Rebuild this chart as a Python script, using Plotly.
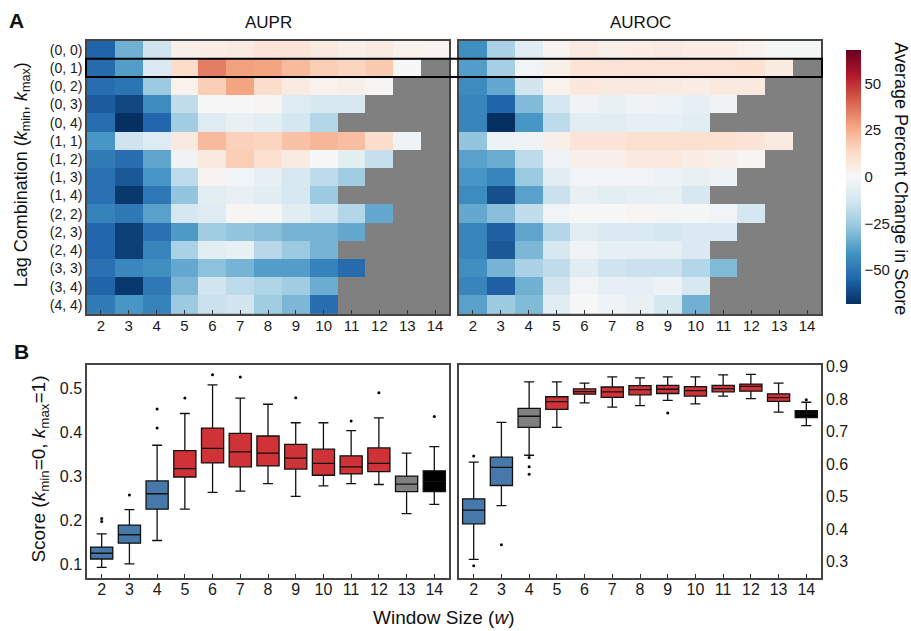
import plotly.graph_objects as go

W, H = 911, 631
N = None

windows = list(range(2, 15))
lag_labels = ["(0, 0)", "(0, 1)", "(0, 2)", "(0, 3)", "(0, 4)", "(1, 1)", "(1, 2)", "(1, 3)",
              "(1, 4)", "(2, 2)", "(2, 3)", "(2, 4)", "(3, 3)", "(3, 4)", "(4, 4)"]

aupr_change = [
    [-55, -33, -14, 4, 5, 6, 9, 9, 7, 4, 6, 3, 2],
    [-53, -38, -10, 13, 35, 28, 27, 22, 17, 15, 18, 0, N],
    [-52, -50, -25, 3, 17, 27, 12, 6, 3, 4, 1, N, N],
    [-57, -62, -43, -17, 0, 0, 1, -9, -11, -11, N, N, N],
    [-52, -68, -54, -24, -9, -5, -7, -12, -20, N, N, N, N],
    [-40, -14, -9, 7, 22, 16, 15, 20, 23, 21, 12, -3, N],
    [-48, -52, -36, -3, 7, 17, 11, 6, 0, -7, -16, N, N],
    [-51, -58, -40, -18, 2, -2, -6, -11, -18, -24, N, N, N],
    [-51, -66, -49, -27, -7, -5, -8, -11, -25, N, N, N, N],
    [-46, -49, -37, -12, -9, 1, -1, -8, -12, -20, -35, N, N],
    [-54, -64, -51, -39, -24, -27, -29, -32, -32, -35, N, N, N],
    [-54, -64, -45, -22, -7, -5, -19, -25, -32, N, N, N, N],
    [-51, -44, -42, -35, -28, -32, -38, -38, -46, -53, N, N, N],
    [-55, -66, -49, -31, -13, -18, -21, -24, -34, N, N, N, N],
    [-48, -40, -46, -25, -15, -13, -24, -31, -52, N, N, N, N],
]

auroc_change = [
    [-42, -22, -8, 2, 6, 4, 5, 6, 5, 5, 3, -1, -1],
    [-38, -23, -2, 4, 9, 9, 10, 10, 10, 10, 11, 6, N],
    [-43, -35, -13, 3, 8, 7, 7, 6, 5, 7, 7, N, N],
    [-45, -55, -30, -12, -3, -5, -3, -4, -6, -3, N, N, N],
    [-45, -68, -40, -18, -8, -8, -6, -6, -8, N, N, N, N],
    [-27, -4, -3, 4, 9, 9, 11, 11, 11, 11, 9, 6, N],
    [-37, -34, -18, -3, 4, 4, 7, 7, 5, 4, 1, N, N],
    [-40, -45, -25, -8, -2, -2, -2, -4, -5, -4, N, N, N],
    [-43, -60, -37, -15, -5, -7, -6, -5, -11, N, N, N, N],
    [-35, -29, -17, -2, 0, 0, 1, -1, -1, -2, -12, N, N],
    [-45, -56, -36, -20, -8, -10, -10, -12, -10, -10, N, N, N],
    [-45, -58, -31, -11, -3, -6, -6, -6, -10, N, N, N, N],
    [-42, -32, -22, -17, -8, -14, -15, -15, -20, -30, N, N, N],
    [-45, -56, -33, -13, -2, -6, -6, -4, -11, N, N, N, N],
    [-37, -25, -30, -8, 0, -3, -5, -12, -33, N, N, N, N],
]

# Box plot summaries (score for k_min=0, k_max=1)
aupr_q1 = [0.113, 0.149, 0.226, 0.299, 0.331, 0.322, 0.324, 0.317, 0.303, 0.306, 0.311, 0.266, 0.266]
aupr_med = [0.126, 0.168, 0.261, 0.318, 0.364, 0.356, 0.353, 0.342, 0.330, 0.322, 0.330, 0.283, 0.289]
aupr_q3 = [0.140, 0.190, 0.290, 0.359, 0.410, 0.398, 0.392, 0.373, 0.362, 0.347, 0.365, 0.301, 0.313]
aupr_lo = [0.094, 0.102, 0.155, 0.226, 0.264, 0.267, 0.284, 0.255, 0.279, 0.284, 0.282, 0.216, 0.237]
aupr_hi = [0.170, 0.225, 0.371, 0.443, 0.508, 0.478, 0.464, 0.422, 0.422, 0.404, 0.433, 0.353, 0.368]
aupr_out_w = [2, 2, 3, 4, 4, 5, 6, 7, 9, 11, 12, 14]
aupr_out_v = [0.205, 0.198, 0.258, 0.453, 0.410, 0.478, 0.531, 0.526, 0.479, 0.426, 0.490, 0.436]
aupr_group = ["b", "b", "b", "r", "r", "r", "r", "r", "r", "r", "r", "g", "k"]

auroc_q1 = [0.416, 0.534, 0.713, 0.768, 0.815, 0.805, 0.813, 0.817, 0.809, 0.822, 0.824, 0.793, 0.743]
auroc_med = [0.458, 0.590, 0.747, 0.792, 0.823, 0.822, 0.829, 0.830, 0.826, 0.832, 0.839, 0.804, 0.755]
auroc_q3 = [0.493, 0.621, 0.771, 0.807, 0.831, 0.837, 0.841, 0.842, 0.838, 0.842, 0.846, 0.816, 0.764]
auroc_lo = [0.307, 0.472, 0.627, 0.713, 0.788, 0.775, 0.780, 0.796, 0.785, 0.809, 0.801, 0.760, 0.718]
auroc_hi = [0.606, 0.728, 0.853, 0.853, 0.849, 0.868, 0.865, 0.868, 0.868, 0.874, 0.876, 0.849, 0.790]
auroc_out_w = [2, 2, 3, 4, 4, 4, 9, 14]
auroc_out_v = [0.625, 0.287, 0.352, 0.620, 0.592, 0.569, 0.757, 0.798]
auroc_group = ["b", "b", "g", "r", "r", "r", "r", "r", "r", "r", "r", "r", "k"]

group_color = {"b": "#4679aa", "r": "#d03337", "g": "#808080", "k": "#000000"}

rdbu_r = ["#053061", "#2166ac", "#4393c3", "#92c5de", "#d1e5f0", "#f7f7f7",
          "#fddbc7", "#f4a582", "#d6604d", "#b2182b", "#67001f"]
colorscale = [[i / 10, c] for i, c in enumerate(rdbu_r)]

FONT = "Liberation Sans, Arial, sans-serif"


def px_x(p):
    return p / W


def px_y(p):
    return 1 - p / H


fig = go.Figure()

# Heatmaps
fig.add_trace(go.Heatmap(z=aupr_change, x=windows, y=lag_labels, coloraxis="coloraxis",
                         xaxis="x", yaxis="y", hoverongaps=False))
fig.add_trace(go.Heatmap(z=auroc_change, x=windows, y=lag_labels, coloraxis="coloraxis",
                         xaxis="x2", yaxis="y2", hoverongaps=False))


# Box plots
def add_boxes(xa, ya, q1, med, q3, lo, hi, groups, ow, ov):
    for i, w in enumerate(windows):
        c = group_color[groups[i]]
        fig.add_trace(go.Box(x=[w], q1=[q1[i]], median=[med[i]], q3=[q3[i]],
                             lowerfence=[lo[i]], upperfence=[hi[i]],
                             fillcolor=c, line=dict(color="#111111", width=1.3),
                             width=0.8, whiskerwidth=0.45, boxpoints=False,
                             xaxis=xa, yaxis=ya, showlegend=False))
    fig.add_trace(go.Scatter(x=ow, y=ov, mode="markers",
                             marker=dict(color="black", size=3),
                             xaxis=xa, yaxis=ya, showlegend=False))


add_boxes("x3", "y3", aupr_q1, aupr_med, aupr_q3, aupr_lo, aupr_hi, aupr_group, aupr_out_w, aupr_out_v)
add_boxes("x4", "y4", auroc_q1, auroc_med, auroc_q3, auroc_lo, auroc_hi, auroc_group, auroc_out_w, auroc_out_v)

hm_y = [px_y(311), px_y(35)]
bx_y = [px_y(577), px_y(362)]
left_x = [px_x(87), px_x(449)]
right_x = [px_x(459), px_x(821)]

frame = dict(showline=True, linecolor="#444444", linewidth=1.5, mirror=True,
             showgrid=False, zeroline=False)

fig.update_layout(
    width=W, height=H, margin=dict(l=0, r=0, t=0, b=0),
    paper_bgcolor="white", plot_bgcolor="white",
    font=dict(family=FONT, color="#1a1a1a"),
    showlegend=False, boxmode="overlay",
    coloraxis=dict(colorscale=colorscale, cmin=-68, cmax=68,
                   colorbar=dict(x=px_x(836), xanchor="left", y=px_y(34), yanchor="top",
                                 len=277 / H, lenmode="fraction", thickness=15,
                                 thicknessmode="pixels", outlinewidth=0,
                                 tickvals=[-50, -25, 0, 25, 50], ticks="", ticklen=0,
                                 tickfont=dict(size=15, family=FONT, color="#1a1a1a"))),
    xaxis=dict(domain=left_x, range=[1.5, 14.5], tickvals=windows, ticks="inside",
               ticklen=4, tickcolor="#333333", tickfont=dict(size=15), ticklabelstandoff=-3,
               anchor="y", **frame),
    yaxis=dict(domain=hm_y, autorange="reversed", ticks="", tickfont=dict(size=14),
               anchor="x", **frame),
    xaxis2=dict(domain=right_x, range=[1.5, 14.5], tickvals=windows, ticks="inside",
                ticklen=4, tickcolor="#333333", tickfont=dict(size=15), ticklabelstandoff=-3,
                anchor="y2", **frame),
    yaxis2=dict(domain=hm_y, autorange="reversed", showticklabels=False, ticks="",
                anchor="x2", **frame),
    xaxis3=dict(domain=left_x, range=[1.47, 14.53], tickvals=windows, ticks="inside",
                ticklen=4, tickcolor="#333333", tickfont=dict(size=16), ticklabelstandoff=-3,
                anchor="y3", **frame),
    yaxis3=dict(domain=bx_y, range=[0.071, 0.554], tickvals=[0.1, 0.2, 0.3, 0.4, 0.5],
                ticks="", tickfont=dict(size=16), anchor="x3", **frame),
    xaxis4=dict(domain=right_x, range=[1.47, 14.53], tickvals=windows, ticks="inside",
                ticklen=4, tickcolor="#333333", tickfont=dict(size=16), ticklabelstandoff=-3,
                anchor="y4", **frame),
    yaxis4=dict(domain=bx_y, range=[0.251, 0.906], side="right",
                tickvals=[0.3, 0.4, 0.5, 0.6, 0.7, 0.8, 0.9], ticks="",
                tickfont=dict(size=16), anchor="x4", **frame),
)

# Gray background for missing cells
for xr, yr in (("x", "y"), ("x2", "y2")):
    fig.add_shape(type="rect", xref=xr + " domain", yref=yr + " domain",
                  x0=0, x1=1, y0=0, y1=1, fillcolor="#808080",
                  line=dict(width=0), layer="below")

# Highlight row (0, 1) across both heatmaps
fig.add_shape(type="rect", xref="paper", yref="paper",
              x0=px_x(86), x1=px_x(822), y0=px_y(71.6), y1=px_y(53.2),
              line=dict(color="black", width=2), fillcolor="rgba(0,0,0,0)")


def add_text(text, x, y, size, angle=0, bold=False, xanchor="center"):
    fig.add_annotation(text=f"<b>{text}</b>" if bold else text,
                       x=px_x(x), y=px_y(y), xref="paper", yref="paper",
                       showarrow=False, textangle=angle, xanchor=xanchor, yanchor="middle",
                       font=dict(size=size, family=FONT, color="#111111"))


add_text("A", 7, 15, 21, bold=True, xanchor="left")
add_text("B", 12, 349, 21, bold=True, xanchor="left")
add_text("AUPR", 268, 17, 17)
add_text("AUROC", 640, 17, 17)
add_text("Lag Combination (<i>k</i><sub>min</sub>, <i>k</i><sub>max</sub>)", 22, 171, 18, angle=-90)
add_text("Score (<i>k</i><sub>min</sub>=0, <i>k</i><sub>max</sub>=1)", 40, 468, 19, angle=-90)
add_text("Window Size (<i>w</i>)", 443, 617, 19)
add_text("Average Percent Change in Score", 901, 174, 18, angle=90)

fig.write_html("out.html")
